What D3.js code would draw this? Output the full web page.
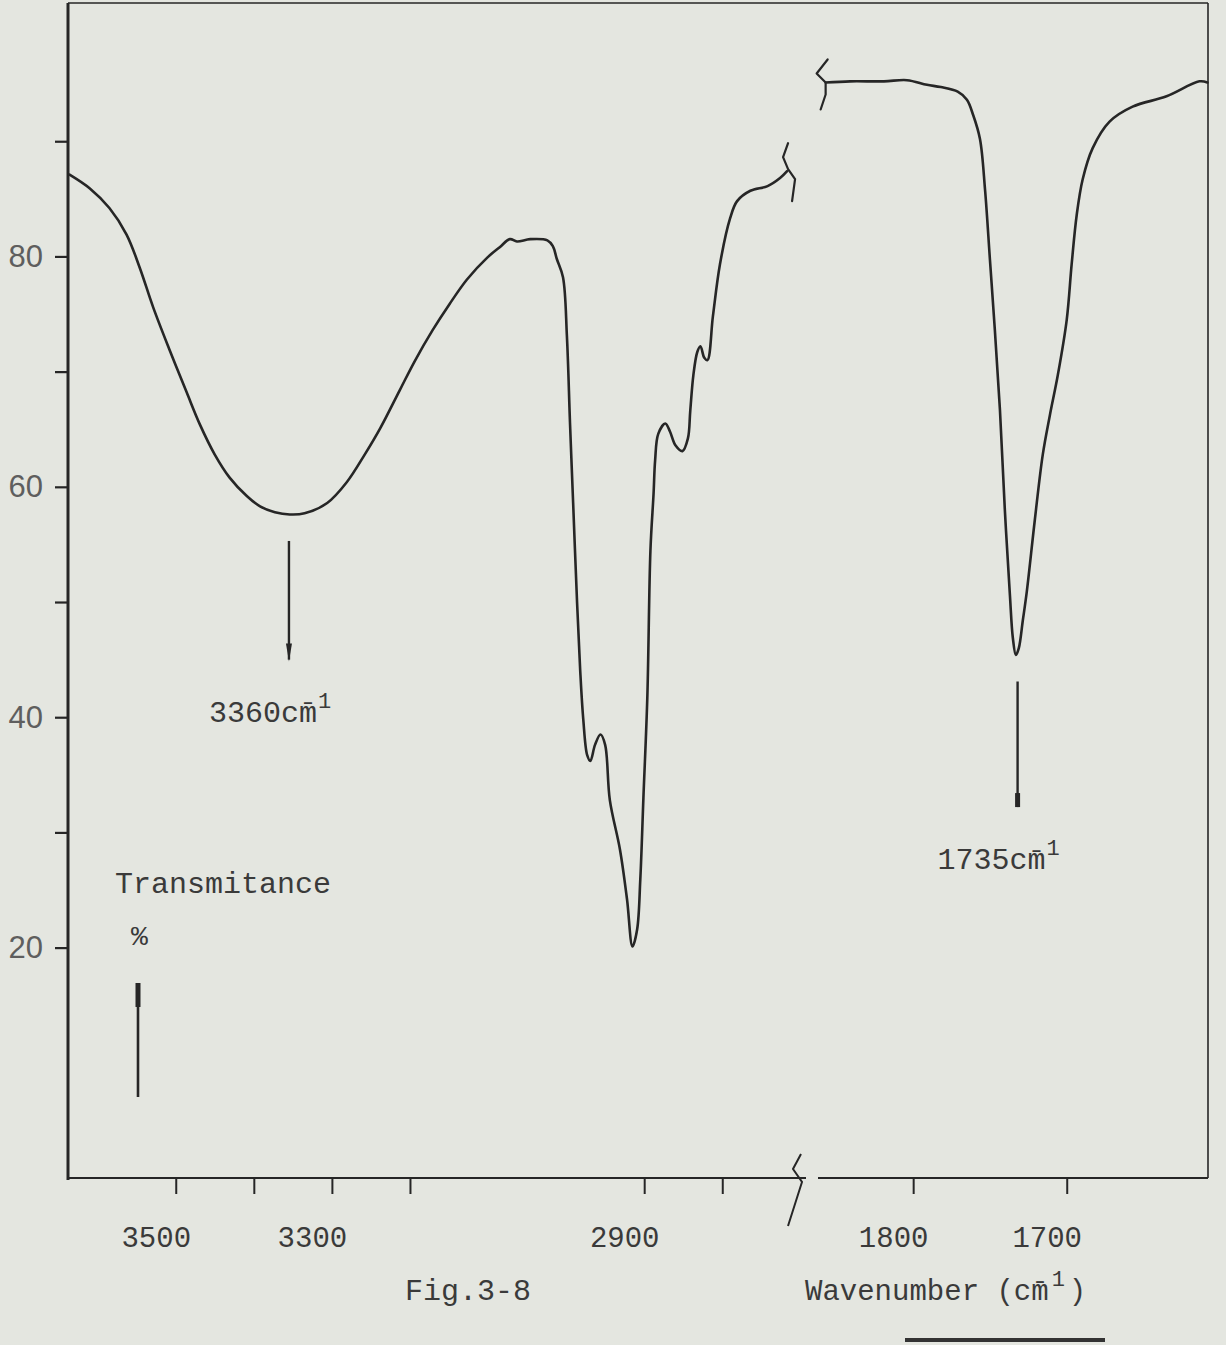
<!DOCTYPE html>
<html>
<head>
<meta charset="utf-8">
<script src="https://cdn.jsdelivr.net/npm/d3@7"></script>
<style>
  html, body { margin: 0; padding: 0; background: #e4e6e0; }
  svg { display: block; }
  .mono { font-family: "Liberation Mono", "DejaVu Sans Mono", monospace; fill: #3a3a3a; }
</style>
</head>
<body>
<div id="chart"></div>
<script>
// trace: wavenumber (cm-1) and % transmittance
// high-frequency part, left of the axis break
const highWavenumber = [3636, 3610, 3585, 3563, 3546, 3529, 3508, 3486, 3469, 3450, 3431, 3409, 3392, 3373,
  3354, 3335, 3306, 3281, 3258, 3238, 3213, 3194, 3171, 3149, 3127, 3101, 3085, 3072, 3063, 3046, 3024,
  3017, 3012, 3004, 2999, 2995, 2991, 2986, 2982, 2978, 2973, 2969, 2963, 2956, 2950, 2944, 2931, 2922,
  2915, 2909, 2905, 2901, 2896, 2892, 2888, 2886, 2882, 2873, 2867, 2860, 2851, 2844, 2841, 2837, 2832,
  2828, 2823, 2819, 2812, 2803, 2790, 2781, 2764, 2742, 2726, 2717];
const highTransmittance = [87.1, 85.9, 84.2, 81.9, 79.0, 75.6, 71.9, 68.2, 65.4, 62.8, 60.8, 59.2, 58.3, 57.8,
  57.6, 57.7, 58.6, 60.4, 62.8, 65.1, 68.4, 70.9, 73.6, 75.9, 78.0, 79.9, 80.8, 81.5, 81.3, 81.5, 81.4,
  80.9, 79.8, 78.2, 73.1, 65.5, 58.6, 50.0, 44.1, 39.8, 36.7, 36.2, 37.6, 38.5, 37.6, 32.8, 28.5, 24.2,
  20.1, 21.6, 25.9, 33.0, 41.7, 54.5, 59.4, 62.3, 64.6, 65.5, 64.8, 63.6, 63.1, 64.2, 66.6, 69.7, 71.7,
  72.2, 71.2, 71.0, 74.8, 79.3, 83.3, 84.8, 85.7, 86.1, 86.8, 87.4];

// carbonyl region, right of the break
const lowWavenumber = [1857, 1841, 1819, 1804, 1791, 1782, 1771, 1765, 1761, 1756.5, 1753.2, 1750, 1746.8,
  1743.5, 1740.3, 1737, 1735.1, 1733.1, 1731.2, 1728.6, 1726, 1720.8, 1715.6, 1711, 1705.8, 1700, 1696.8,
  1693.5, 1689.6, 1683.1, 1672.1, 1657.1, 1635, 1613.6, 1608.4];
const lowTransmittance = [95.1, 95.2, 95.2, 95.3, 94.9, 94.7, 94.3, 93.6, 92.3, 90.2, 85.8, 79.7, 73.6,
  66.7, 58.0, 50.6, 46.9, 45.4, 46.0, 48.4, 50.9, 57.1, 62.8, 66.2, 69.7, 74.5, 79.3,
  83.6, 86.7, 89.4, 91.7, 93.0, 93.9, 95.2, 95.1];

const yTicks = [20, 30, 40, 50, 60, 70, 80, 90];
const yTickLabels = ["20", "", "40", "", "60", "", "80", ""];
const xTicks = [3500, 3400, 3300, 3200, 2900, 2800, 1800, 1700];
const xTickLabels = ["3500", "", "3300", "", "2900", "", "1800", "1700"];

// marked bands: arrow runs from `from` down to `to` (% T)
const peakWavenumber = [3355, 1732];
const peakLabel = ["3360", "1735"];
const peakArrowFrom = [55.3, 43.1];
const peakArrowTo = [45.0, 32.2];

const width = 1226;
const height = 1345;
const plotLeft = 68, plotRight = 1208, plotTop = 3, plotBottom = 1178, breakX = 798;
const ink = "#262626";

// x axis is broken: two linear pieces meeting at breakX
const x = d3.scaleLinear()
  .domain([3638, 2703, 1875, 1608])
  .range([plotLeft, breakX, breakX, plotRight]);
const y = d3.scaleLinear().domain([0, 102]).range([plotBottom, plotTop]);

const svg = d3.select("#chart").append("svg")
  .attr("width", width)
  .attr("height", height);

svg.append("rect").attr("width", width).attr("height", height).attr("fill", "#e4e6e0");

// frame
const frame = svg.append("g").attr("stroke", ink).attr("fill", "none");
frame.append("line").attr("x1", plotLeft).attr("x2", plotLeft).attr("y1", plotTop).attr("y2", plotBottom + 2).attr("stroke-width", 3);
frame.append("line").attr("x1", plotLeft).attr("x2", plotRight).attr("y1", plotTop).attr("y2", plotTop).attr("stroke-width", 1.6);
frame.append("line").attr("x1", plotRight).attr("x2", plotRight).attr("y1", plotTop).attr("y2", plotBottom).attr("stroke-width", 1.6);
frame.append("line").attr("x1", plotLeft).attr("x2", breakX + 8).attr("y1", plotBottom).attr("y2", plotBottom).attr("stroke-width", 2.2);
frame.append("line").attr("x1", breakX + 20).attr("x2", plotRight).attr("y1", plotBottom).attr("y2", plotBottom).attr("stroke-width", 2.2);

// axis break mark on the wavenumber axis
frame.append("path")
  .attr("stroke-width", 2)
  .attr("d", d3.line()([
    [breakX + 3, plotBottom - 24], [breakX - 5, plotBottom - 9], [breakX + 4, plotBottom + 4], [breakX - 10, plotBottom + 48]
  ]));

// y axis
const yAxis = svg.append("g")
  .attr("transform", `translate(${plotLeft},0)`)
  .call(d3.axisLeft(y).tickValues(yTicks).tickSize(13).tickPadding(12)
    .tickFormat((d, i) => yTickLabels[i]));
yAxis.select(".domain").remove();
yAxis.selectAll(".tick line").attr("stroke", ink).attr("stroke-width", 2.2);
yAxis.selectAll(".tick text")
  .attr("fill", "#5e5e5e")
  .style("font-family", "'Liberation Sans', Arial, sans-serif")
  .style("font-size", "31px");

// x axis
const xAxis = svg.append("g")
  .attr("transform", `translate(0,${plotBottom})`)
  .call(d3.axisBottom(x).tickValues(xTicks).tickSize(16).tickPadding(32)
    .tickFormat((d, i) => xTickLabels[i]));
xAxis.select(".domain").remove();
xAxis.selectAll(".tick line").attr("stroke", ink).attr("stroke-width", 2);
xAxis.selectAll(".tick text")
  .attr("class", "mono")
  .attr("dx", -20)
  .attr("fill", "#3c3c3c")
  .style("font-size", "29px");

// spectrum trace
const line = d3.line()
  .x(d => x(d[0]))
  .y(d => y(d[1]))
  .curve(d3.curveCatmullRom.alpha(0.5));

const high = highWavenumber.map((w, i) => [w, highTransmittance[i]]);
const low = lowWavenumber.map((w, i) => [w, lowTransmittance[i]]);

const trace = svg.append("g").attr("fill", "none").attr("stroke", ink)
  .attr("stroke-width", 2.6).attr("stroke-linejoin", "round").attr("stroke-linecap", "round");
trace.append("path").attr("d", line(high));
trace.append("path").attr("d", line(low));

// break marks where the trace is cut
const hiEnd = high[high.length - 1];
const hx = x(hiEnd[0]), hy = y(hiEnd[1]);
trace.append("path").attr("stroke-width", 2.2)
  .attr("d", d3.line()([[hx + 1, hy - 28], [hx - 4, hy - 14], [hx + 1, hy - 2], [hx + 8, hy + 8], [hx + 5, hy + 30]]));
const loStart = low[0];
const lx = x(loStart[0]), ly = y(loStart[1]);
trace.append("path").attr("stroke-width", 2.2)
  .attr("d", d3.line()([[lx + 2, ly - 23], [lx - 9, ly - 9], [lx, ly], [lx, ly + 12], [lx - 5, ly + 27]]));

// band arrows and labels ("cm̄¹" as typed on the original)
peakWavenumber.forEach((w, i) => {
  const ax = x(w);
  const y0 = y(peakArrowFrom[i]), y1 = y(peakArrowTo[i]);
  svg.append("line").attr("x1", ax).attr("x2", ax).attr("y1", y0).attr("y2", y1)
    .attr("stroke", ink).attr("stroke-width", 2.4);
  if (i === 0) {
    svg.append("path").attr("fill", ink)
      .attr("d", `M${ax - 3},${y1 - 16} L${ax + 3},${y1 - 16} L${ax},${y1 + 2} Z`);
  } else {
    svg.append("rect").attr("x", ax - 2.5).attr("y", y1 - 14).attr("width", 5).attr("height", 14).attr("fill", ink);
  }
  const t = svg.append("text").attr("class", "mono")
    .attr("x", ax - 80).attr("y", y1 + 62)
    .style("font-size", "30px")
    .text(peakLabel[i] + "cm\u0304");
  t.append("tspan").attr("dx", 1).attr("dy", -14).style("font-size", "22px").text("1");
});

// y axis title, written inside the plot
svg.append("text").attr("class", "mono")
  .attr("x", 115).attr("y", 893)
  .style("font-size", "30px")
  .text("Transmitance");
svg.append("text").attr("class", "mono")
  .attr("x", 131).attr("y", 945)
  .style("font-size", "28px")
  .text("%");
svg.append("line").attr("x1", 138).attr("x2", 138).attr("y1", 983).attr("y2", 1097)
  .attr("stroke", ink).attr("stroke-width", 2.6);
svg.append("line").attr("x1", 138).attr("x2", 138).attr("y1", 983).attr("y2", 1007)
  .attr("stroke", ink).attr("stroke-width", 5);

// captions
svg.append("text").attr("class", "mono")
  .attr("x", 405).attr("y", 1300)
  .style("font-size", "30px")
  .text("Fig.3-8");
const xt = svg.append("text").attr("class", "mono")
  .attr("x", 805).attr("y", 1300)
  .style("font-size", "29px")
  .text("Wavenumber (cm\u0304");
xt.append("tspan").attr("dx", 3).attr("dy", -14).style("font-size", "22px").text("1");
xt.append("tspan").attr("dx", 4).attr("dy", 14).text(")");
svg.append("line").attr("x1", 905).attr("x2", 1105).attr("y1", 1340).attr("y2", 1340)
  .attr("stroke", "#333").attr("stroke-width", 4);
</script>
</body>
</html>
